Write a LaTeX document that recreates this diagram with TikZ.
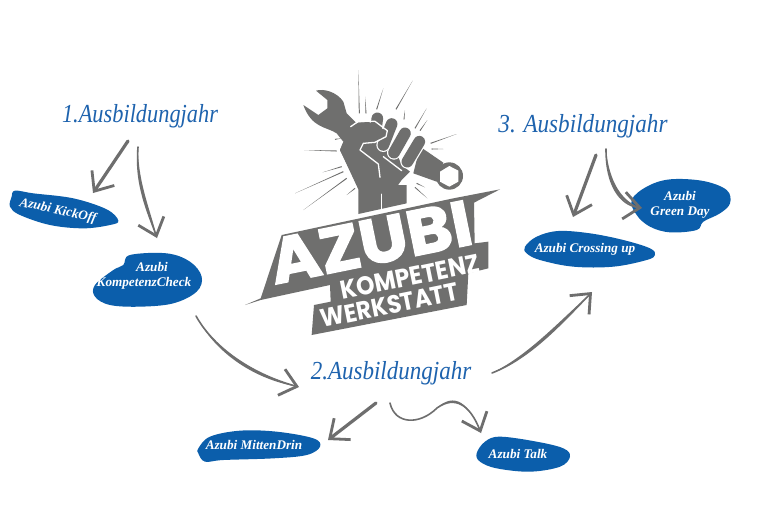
\documentclass[tikz,border=0pt]{standalone}
\usepackage{fontspec}
\usetikzlibrary{arrows.meta,calc}
\setmainfont{Liberation Serif}
\newfontfamily\logofont[FakeBold=2]{Poppins Bold}
\newfontfamily\subfont{Poppins Bold}
\definecolor{logogray}{HTML}{6F6F6E}
\definecolor{arrowgray}{HTML}{6E6E6E}
\definecolor{blobblue}{HTML}{0B5EAB}
\definecolor{headblue}{HTML}{1E63AE}
\tikzset{
  yearlabel/.style={text=headblue,font=\fontsize{26}{28}\selectfont\itshape,inner sep=0pt},
  bloblabel/.style={text=white,font=\fontsize{13.2}{14}\selectfont\itshape\bfseries,inner sep=0pt,align=center},
  blob/.style={fill=blobblue,draw=none},
  conn/.style={draw=arrowgray,line width=1.6pt,line cap=round,
    -{Straight Barb[length=16pt,width=27pt,line width=2.8pt]}},
  heavy/.style={line width=3.2pt},
  ray/.style={fill=logogray,draw=none},
  logotext/.style={text=white,inner sep=0pt,rotate=11.5},
  gapline/.style={white,line width=1.3pt,line cap=round,line join=round},
}
\newcommand{\rayline}[2]{\fill[ray] (#1) -- ($(#2)!1.6pt!90:(#1)$) -- ($(#2)!1.6pt!-90:(#1)$) -- cycle;}
\newcommand{\fingerbar}[2]{\draw[white,line width=14pt,line cap=round] (#1) -- (#2);
  \draw[logogray,line width=11.6pt,line cap=round] (#1) -- (#2);}
\newcommand{\brushstroke}[5]{\fill[arrowgray] (#1) .. controls (#2) and (#3) .. (#4)
   .. controls ($(#3)+(#5)$) and ($(#2)+(#5)$) .. (#1) -- cycle;}
\begin{document}
\begin{tikzpicture}[x=1pt,y=-1pt]
\useasboundingbox (0,0) rectangle (760,507);
\fill[white] (0,0) rectangle (760,507);

% ---------- logo (coordinates of the crop at 240,70, scale 3)
\begin{scope}[shift={(240,70)},scale=1/3]
  \rayline{355,0}{358,130}
  \rayline{430,55}{410,118}
  \rayline{518,32}{468,118}
  \rayline{495,120}{492,148}
  \rayline{560,115}{525,175}
  \rayline{562,150}{540,182}
  \rayline{650,192}{572,220}
  \rayline{610,237}{575,237}
  \rayline{192,240}{290,243}
  \rayline{305,205}{285,208}
  \rayline{248,307}{305,290}
  \rayline{165,370}{310,305}
  \rayline{190,420}{320,325}
  \rayline{320,375}{345,355}
  \rayline{555,352}{530,340}
  \rayline{562,385}{525,352}
  \rayline{375,80}{378,130}
  % wrench
  \fill[logogray] (228,62) .. controls (250,55) and (290,65) .. (310,95)
     -- (320,130) -- (350,160) -- (310,215) -- (290,190)
     .. controls (260,170) and (215,175) .. (190,105)
     -- (235,135) -- (262,115) -- (262,90) -- cycle;
  \fill[logogray] (540,230) -- (610,278) -- (590,335) -- (520,310) -- cycle;
  \fill[logogray] (628,318) circle (41);
  \fill[white] (600,305) -- (628,288) -- (655,302) -- (655,335) -- (628,350) -- (600,335) -- cycle;
  % wrist
  \fill[logogray] (355,345) -- (500,345) -- (500,400) -- (355,432) -- cycle;
  \draw[gapline,line width=.9pt] (425,372) -- (425,422);
\end{scope}
% fist (coordinates of the crop at 330,100, scale 3)
\begin{scope}[shift={(330,100)},scale=1/3]
  \fill[logogray] (30,150) -- (55,90) -- (85,68) -- (130,65) -- (170,90) -- (215,195)
     -- (240,215) -- (215,240) -- (195,268) -- (85,268) -- cycle;
  \fingerbar{268,125}{232,185}
  \fingerbar{225,100}{192,158}
  \fingerbar{185,72}{160,135}
  \fingerbar{142,55}{138,85}
  \fill[logogray] (30,150) -- (55,90) -- (85,68) -- (135,68) -- (168,95) -- (165,108)
     -- (135,125) -- (100,130) -- (90,150) -- (145,192) -- (150,232) -- (85,262) -- cycle;
  \draw[gapline] (62,80) -- (85,64) -- (135,64) -- (172,92) -- (168,110) -- (135,127)
     -- (100,130) -- (90,150) -- (145,192) -- (150,232);
  \draw[gapline] (160,170) -- (215,212);
\end{scope}
\begin{scope}[shift={(240,70)},scale=1/3]
  % AZUBI band
  \fill[logogray] (15,705) -- (62,685) -- (125,495) -- (640,385) -- (780,358)
     -- (702,398) -- (704,520) -- (745,515) -- (745,595) -- (685,610) -- (680,705)
     -- (215,795) -- (222,705) -- (272,695) -- (270,645) -- (62,690) -- cycle;
  \node[logotext,font=\fontsize{64}{64}\logofont,xscale=1.07] (azubi) at (392,517) {AZUBI};
  \node[logotext,font=\fontsize{23.4}{24}\subfont,yscale=1.1] (kompetenz) at (510,620) {KOMPETENZ};
  \node[logotext,font=\fontsize{23}{24}\subfont,yscale=1.1] (werkstatt) at (448,706) {WERKSTATT};
\end{scope}

% ---------- blue blobs
\begin{scope}[shift={(0,90)},scale=1/3]
  \fill[blob] plot[smooth cycle,tension=.6] coordinates {(45,302)(100,310)(220,325)(320,358)(355,392)(330,405)(250,415)(150,405)(60,375)(30,350)(35,320)};
  \fill[blob] plot[smooth cycle,tension=.6] coordinates {(390,495)(500,490)(570,515)(605,560)(590,605)(520,640)(420,650)(330,645)(285,620)(285,585)(340,540)(370,525)};
\end{scope}
\begin{scope}[shift={(490,100)},scale=1/3]
  \fill[blob] plot[smooth cycle,tension=.6] coordinates {(105,440)(140,410)(205,393)(300,400)(400,420)(480,445)(495,465)(470,480)(370,500)(250,500)(150,480)(110,460)};
  \fill[blob] plot[smooth cycle,tension=.6] coordinates {(425,300)(470,260)(540,238)(640,243)(710,270)(720,310)(690,340)(640,365)(620,390)(540,397)(480,380)(440,345)};
\end{scope}
\begin{scope}[shift={(190,290)},scale=1/3]
  \fill[blob] plot[smooth cycle,tension=.6] coordinates {(25,475)(60,440)(150,422)(260,425)(370,445)(390,470)(350,495)(250,505)(100,510)(45,515)(25,490)};
  \fill[blob] plot[smooth cycle,tension=.6] coordinates {(860,490)(885,455)(930,440)(1040,455)(1120,475)(1140,500)(1110,530)(1020,545)(920,535)(870,515)};
\end{scope}

% ---------- labels
\node[yearlabel,xscale=.86] (y1) at (140,116) {1.Ausbildungjahr};
\node[yearlabel,xscale=.89] (y3) at (583,126) {3. Ausbildungjahr};
\node[yearlabel,xscale=.885] (y2) at (391,373) {2.Ausbildungjahr};

\node[bloblabel,rotate=-12] (kick) at (58,211) {Azubi KickOff};
\node[bloblabel] (check) at (144,276) {\hspace*{16pt}Azubi\\[1pt]KompetenzCheck};
\node[bloblabel] (cross) at (585,249) {Azubi Crossing up};
\node[bloblabel] (green) at (680,205) {Azubi\\[1pt]Green Day};
\node[bloblabel] (mitten) at (254,445) {Azubi MittenDrin};
\node[bloblabel] (talk) at (518,454) {Azubi Talk};

% ---------- connector ends
\coordinate (a1) at (128,141);  \coordinate (a1e) at (93,193);
\coordinate (b1) at (138,147);  \coordinate (b1e) at (157,238);
\coordinate (c1) at (196,316);  \coordinate (c1e) at (299,387);
\coordinate (d1) at (376,403);  \coordinate (d1e) at (328,440);
\coordinate (e1) at (390,403);  \coordinate (e1e) at (481,433);
\coordinate (f1) at (492,373);  \coordinate (f1e) at (592,292);
\coordinate (g1) at (596,155);  \coordinate (g1e) at (573,217);
\coordinate (h1) at (606,149);  \coordinate (h1e) at (642,208);

\draw[conn,heavy] (a1) -- (a1e);
\draw[conn] (b1) .. controls (135,185) and (148,212) .. (b1e);
\brushstroke{b1}{135,185}{148,212}{b1e}{3,-1}
\draw[conn] (c1) .. controls (215,350) and (255,375) .. (c1e);
\brushstroke{c1}{215,350}{255,375}{c1e}{1.5,5}
\draw[conn,heavy] (d1) -- (d1e);
\draw[conn] (e1) .. controls (395,425) and (420,425) .. (437,408)
   .. controls (455,395) and (470,405) .. (e1e);
\coordinate (e2) at (437,408);
\brushstroke{e2}{455,395}{470,405}{e1e}{-1,-3}
\draw[conn] (f1) .. controls (530,358) and (560,325) .. (f1e);
\brushstroke{f1}{530,358}{560,325}{f1e}{-1.5,-3}
\draw[conn,heavy] (g1) -- (g1e);
\draw[conn] (h1) .. controls (606,185) and (620,205) .. (h1e);
\brushstroke{h1}{606,185}{620,205}{h1e}{3,-2}
\end{tikzpicture}
\end{document}
